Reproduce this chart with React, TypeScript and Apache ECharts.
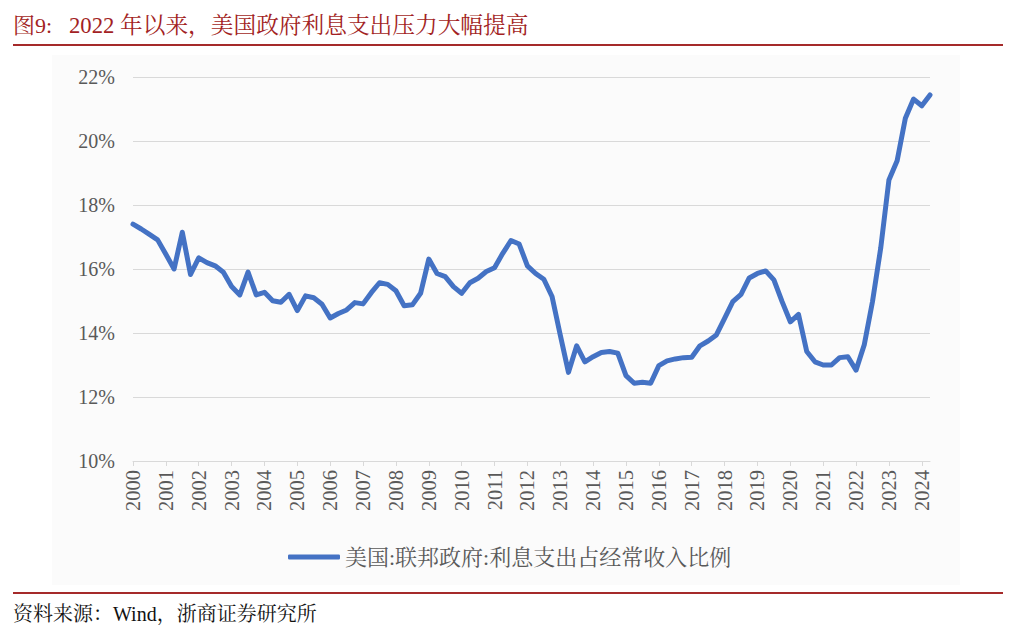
import React, { useEffect, useRef } from "react";
import * as echarts from "echarts";

const years = ["2000","2001","2002","2003","2004","2005","2006","2007","2008","2009","2010","2011","2012","2013","2014","2015","2016","2017","2018","2019","2020","2021","2022","2023","2024"];
const quarters = ["Q1", "Q2", "Q3", "Q4"];
const categories = years.flatMap((y) => quarters.map((q) => y + q)).slice(0, 98);

const interestRatio = [
  17.40, 17.25, 17.08, 16.91, 16.46, 16.00, 17.15, 15.83, 16.35, 16.20,
  16.10, 15.90, 15.45, 15.19, 15.90, 15.19, 15.27, 15.01, 14.96, 15.21,
  14.70, 15.16, 15.10, 14.90, 14.47, 14.61, 14.72, 14.95, 14.91, 15.26,
  15.57, 15.52, 15.32, 14.85, 14.88, 15.24, 16.31, 15.86, 15.76, 15.45,
  15.24, 15.57, 15.71, 15.92, 16.04, 16.49, 16.89, 16.78, 16.10, 15.86,
  15.68, 15.14, 13.94, 12.77, 13.60, 13.10, 13.26, 13.39, 13.42, 13.37,
  12.67, 12.43, 12.46, 12.43, 12.98, 13.13, 13.19, 13.23, 13.24, 13.60,
  13.75, 13.94, 14.46, 14.98, 15.21, 15.72, 15.86, 15.94, 15.66, 14.98,
  14.35, 14.58, 13.42, 13.10, 13.00, 13.00, 13.23, 13.26, 12.84, 13.63,
  14.98, 16.65, 18.78, 19.38, 20.71, 21.31, 21.10, 21.44,
];

const seriesName = "美国:联邦政府:利息支出占经常收入比例";
const titleLabel = "图9:";
const titleText = "2022 年以来，美国政府利息支出压力大幅提高";
const sourceText = "资料来源：Wind，浙商证券研究所";

const serif = "'Liberation Serif', 'Noto Serif CJK SC', 'Noto Sans CJK SC', serif";

export default function App() {
  const ref = useRef<HTMLDivElement>(null);
  useEffect(() => {
    if (!ref.current) return;
    const chart = echarts.init(ref.current, undefined, { renderer: "svg" });
    chart.setOption({
      animation: false,
      backgroundColor: "#ffffff",
      grid: { left: 133, right: 79, top: 77, bottom: 175, containLabel: false },
      xAxis: {
        type: "category",
        data: categories,
        boundaryGap: false,
        axisLine: { lineStyle: { color: "#d9d9d9", width: 1 } },
        axisTick: { interval: 3, length: 5, lineStyle: { color: "#d9d9d9" } },
        axisLabel: {
          interval: 3,
          rotate: 90,
          margin: 9,
          color: "#595959",
          fontSize: 20.5,
          fontFamily: serif,
          formatter: (v: string) => v.slice(0, 4),
        },
        splitLine: { show: false },
      },
      yAxis: {
        type: "value",
        min: 10,
        max: 22,
        interval: 2,
        axisLine: { show: false },
        axisTick: { show: false },
        axisLabel: {
          formatter: "{value}%",
          color: "#595959",
          fontSize: 20,
          fontFamily: serif,
          margin: 18,
        },
        splitLine: { lineStyle: { color: "#d9d9d9", width: 1 } },
      },
      legend: {
        left: 283,
        top: 541,
        icon: "roundRect",
        itemWidth: 52,
        itemHeight: 5,
        itemGap: 6,
        textStyle: { color: "#595959", fontSize: 22, fontFamily: serif },
        data: [seriesName],
      },
      series: [
        {
          name: seriesName,
          type: "line",
          data: interestRatio,
          showSymbol: false,
          symbol: "none",
          itemStyle: { color: "#4472C4" },
          lineStyle: { color: "#4472C4", width: 5, cap: "round", join: "round" },
        },
      ],
      graphic: [
        {
          type: "rect",
          z: -10,
          silent: true,
          shape: { x: 52, y: 55, width: 908, height: 530 },
          style: { fill: "#fbfbfb" },
        },
        {
          type: "text",
          x: 13,
          y: 25,
          style: {
            text: titleLabel,
            fill: "#a31f24",
            fontSize: 22,
            fontFamily: serif,
            verticalAlign: "middle",
          },
        },
        {
          type: "text",
          x: 69,
          y: 25,
          style: {
            text: titleText,
            fill: "#a31f24",
            fontSize: 22.7,
            fontFamily: serif,
            verticalAlign: "middle",
          },
        },
        {
          type: "line",
          shape: { x1: 13, y1: 45, x2: 1003, y2: 45 },
          style: { stroke: "#a52a2a", lineWidth: 2 },
        },
        {
          type: "line",
          shape: { x1: 13, y1: 593, x2: 1003, y2: 593 },
          style: { stroke: "#a52a2a", lineWidth: 2 },
        },
        {
          type: "text",
          x: 13,
          y: 614,
          style: {
            text: sourceText,
            fill: "#111111",
            fontSize: 20,
            fontFamily: serif,
            verticalAlign: "middle",
          },
        },
      ],
    });
    return () => chart.dispose();
  }, []);
  return (
    <div
      ref={ref}
      style={{ position: "fixed", left: 0, top: 0, width: 1009, height: 636 }}
    />
  );
}
